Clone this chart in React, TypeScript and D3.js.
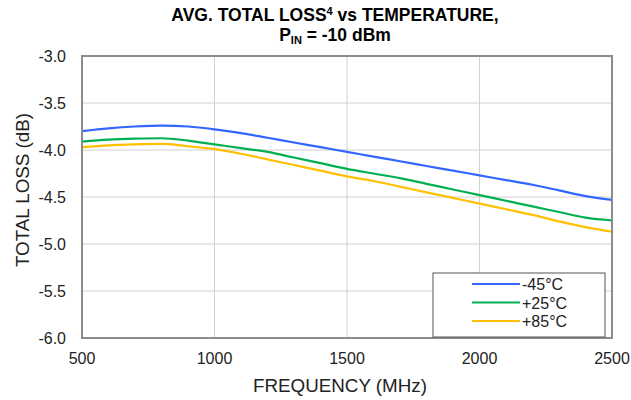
import React from 'react';
import * as d3 from 'd3';

const freqs = [500, 600, 700, 800, 900, 1000, 1100, 1200, 1300, 1400, 1500, 1600, 1700, 1800, 1900, 2000, 2100, 2200, 2300, 2400, 2500];
const lossM45 = [-3.8, -3.77, -3.75, -3.74, -3.75, -3.78, -3.82, -3.87, -3.92, -3.97, -4.02, -4.07, -4.12, -4.17, -4.22, -4.27, -4.32, -4.37, -4.43, -4.49, -4.53];
const lossP25 = [-3.91, -3.89, -3.88, -3.875, -3.9, -3.94, -3.98, -4.02, -4.08, -4.14, -4.2, -4.25, -4.3, -4.36, -4.42, -4.48, -4.54, -4.6, -4.66, -4.72, -4.75];
const lossP85 = [-3.97, -3.95, -3.94, -3.935, -3.96, -3.99, -4.04, -4.1, -4.16, -4.22, -4.28, -4.33, -4.39, -4.45, -4.51, -4.57, -4.63, -4.69, -4.76, -4.82, -4.87];

const seriesNames = ['-45°C', '+25°C', '+85°C'];
const seriesColors = ['#3366ff', '#00b050', '#ffc000'];
const xTicks = [500, 1000, 1500, 2000, 2500];
const yTicks = [-3.0, -3.5, -4.0, -4.5, -5.0, -5.5, -6.0];

const width = 631;
const height = 400;
const margin = { top: 56, right: 19, bottom: 62, left: 82 };
const font = 'Arial, "Liberation Sans", sans-serif';

export default function App() {
  const x = d3.scaleLinear().domain([500, 2500]).range([margin.left, width - margin.right]);
  const y = d3.scaleLinear().domain([-6, -3]).range([height - margin.bottom, margin.top]);

  const line = d3
    .line<number>()
    .x((_, i) => x(freqs[i]))
    .y((d) => y(d))
    .curve(d3.curveMonotoneX);

  const series = [lossM45, lossP25, lossP85];
  const [x0, x1] = x.range();
  const [y0, y1] = y.range();

  // legend box
  const lg = { x: 433, y: 273, w: 172, h: 64 };

  return (
    <svg width={width} height={height} style={{ position: 'absolute', left: 0, top: 0 }} fontFamily={font}>
      <rect width={width} height={height} fill="#fff" />
      <text x={335} y={21} textAnchor="middle" fontSize={17.5} fontWeight="bold">
        AVG. TOTAL LOSS<tspan fontSize={11} dy={-6}>4</tspan>
        <tspan dy={6}> vs TEMPERATURE,</tspan>
      </text>
      <text x={335} y={41} textAnchor="middle" fontSize={17.5} fontWeight="bold">
        P<tspan fontSize={11} dy={3}>IN</tspan>
        <tspan dy={-3}> = -10 dBm</tspan>
      </text>

      {yTicks.map((t) => (
        <line key={'gy' + t} x1={x0} x2={x1} y1={y(t)} y2={y(t)} stroke="#d0d0d0" strokeWidth={1} />
      ))}
      {xTicks.map((t) => (
        <line key={'gx' + t} x1={x(t)} x2={x(t)} y1={y1} y2={y0} stroke="#d0d0d0" strokeWidth={1} />
      ))}

      {series.map((s, i) => (
        <path key={seriesNames[i]} d={line(s) || ''} fill="none" stroke={seriesColors[i]} strokeWidth={2.2} />
      ))}

      <rect x={x0} y={y1} width={x1 - x0} height={y0 - y1} fill="none" stroke="#8c8c8c" strokeWidth={2} />

      {yTicks.map((t) => (
        <text key={'ty' + t} x={66} y={y(t) + 6} textAnchor="end" fontSize={16} fill="#222">
          {t.toFixed(1)}
        </text>
      ))}
      {xTicks.map((t) => (
        <text key={'tx' + t} x={x(t)} y={364} textAnchor="middle" fontSize={16} fill="#222">
          {t}
        </text>
      ))}

      <text x={340} y={392} textAnchor="middle" fontSize={18.8} fill="#222">
        FREQUENCY (MHz)
      </text>
      <text transform={`translate(29,190) rotate(-90)`} textAnchor="middle" fontSize={18.8} fill="#222">
        TOTAL LOSS (dB)
      </text>

      <rect x={lg.x} y={lg.y} width={lg.w} height={lg.h} fill="#fff" stroke="#555" strokeWidth={1} />
      {seriesNames.map((n, i) => (
        <g key={'lg' + n} transform={`translate(0,${284 + i * 18.5})`}>
          <line x1={472} x2={520} y1={0} y2={0} stroke={seriesColors[i]} strokeWidth={2.2} />
          <text x={522} y={6} fontSize={16} fill="#222">
            {n}
          </text>
        </g>
      ))}
    </svg>
  );
}
